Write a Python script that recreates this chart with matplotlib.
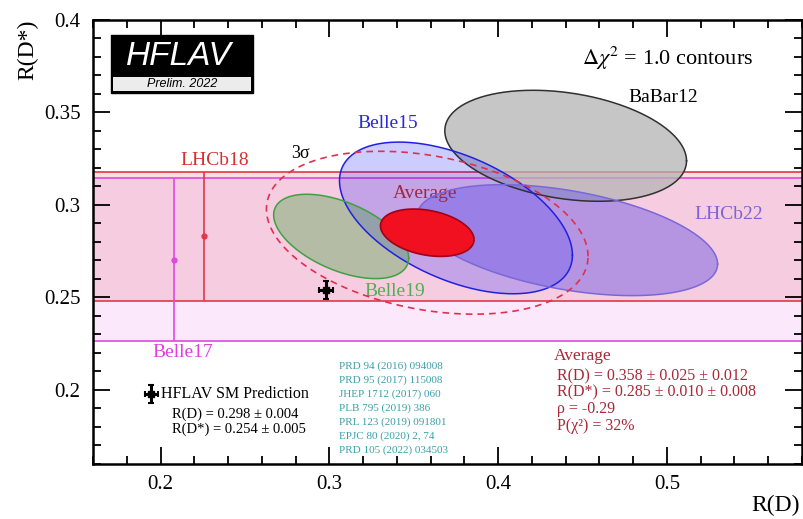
import numpy as np
import matplotlib.pyplot as plt
from matplotlib.patches import Rectangle
from matplotlib.ticker import MultipleLocator, FuncFormatter

plt.rcParams['font.family'] = ['Liberation Serif', 'DejaVu Serif']
plt.rcParams['mathtext.fontset'] = 'stix'

# 2D measurements: R(D), sigma, R(D*), sigma, correlation
names = ['BaBar12', 'Belle15', 'LHCb22', 'Belle19']
rd = [0.440, 0.375, 0.441, 0.307]
rd_err = [0.0716, 0.069, 0.089, 0.040]
rds = [0.332, 0.293, 0.281, 0.283]
rds_err = [0.030, 0.041, 0.030, 0.0228]
rho = [-0.27, -0.49, -0.43, -0.51]
face = [('#b4b4b4', 0.75), ('#0000ff', 0.20), ('#6e5ae6', 0.48), ('#3ca03c', 0.35)]
edge = ['#303030', '#2020e0', '#7a68d8', '#40a040']

# average
avg_rd, avg_rd_err = 0.358, 0.0277
avg_rds, avg_rds_err = 0.285, 0.0128
avg_rho = -0.29
dchi2_3sigma = 11.83

# R(D*) only measurements (x position is arbitrary)
bands = ['LHCb18', 'Belle17']
band_x = [0.226, 0.2077]
band_y = [0.283, 0.270]
band_lo = [0.035, 0.0435]
band_hi = [0.035, 0.0448]
band_col = ['#e03848', '#e048e0']
band_alpha = [0.16, 0.12]

# SM prediction
sm_rd, sm_rd_err = 0.298, 0.004
sm_rds, sm_rds_err = 0.254, 0.005

refs = ['PRD 94 (2016) 094008', 'PRD 95 (2017) 115008', 'JHEP 1712 (2017) 060',
        'PLB 795 (2019) 386', 'PRL 123 (2019) 091801', 'EPJC 80 (2020) 2, 74',
        'PRD 105 (2022) 034503']


def ellipse(x0, sx, y0, sy, r, scale=1.0):
    cov = np.array([[sx**2, r*sx*sy], [r*sx*sy, sy**2]])
    L = np.linalg.cholesky(cov)
    t = np.linspace(0, 2*np.pi, 300)
    pts = L @ np.vstack([np.cos(t), np.sin(t)]) * np.sqrt(scale)
    return x0 + pts[0], y0 + pts[1]


fig = plt.figure(figsize=(8.04, 5.19), dpi=100)
ax = fig.add_axes([0.1157, 0.1060, 0.8818, 0.8555])
ax.set_xlim(0.16, 0.58)
ax.set_ylim(0.16, 0.40)

# horizontal bands
for i in range(len(bands)):
    lo = band_y[i] - band_lo[i]
    hi = band_y[i] + band_hi[i]
    ax.axhspan(lo, hi, color=band_col[i], alpha=band_alpha[i], lw=0, zorder=1)
    ax.axhline(lo, color=band_col[i], lw=1.2, zorder=1.5)
    ax.axhline(hi, color=band_col[i], lw=1.2, zorder=1.5)
    ax.errorbar(band_x[i], band_y[i], yerr=[[band_lo[i]], [band_hi[i]]], fmt='o',
                color=band_col[i], ms=3.5, lw=1.2, capsize=0, zorder=2)

# measurement ellipses
for i in range(len(names)):
    ex, ey = ellipse(rd[i], rd_err[i], rds[i], rds_err[i], rho[i])
    ax.fill(ex, ey, color=face[i][0], alpha=face[i][1], lw=0, zorder=3)
    ax.plot(ex, ey, color=edge[i], lw=1.1, zorder=3.5)

# average and 3 sigma contour
ex, ey = ellipse(avg_rd, avg_rd_err, avg_rds, avg_rds_err, avg_rho)
ax.fill(ex, ey, facecolor='#f01020', edgecolor='#a00018', lw=1.2, zorder=4)
ex, ey = ellipse(avg_rd, avg_rd_err, avg_rds, avg_rds_err, avg_rho, dchi2_3sigma)
ax.plot(ex, ey, color='#e03050', lw=1.2, ls=(0, (4, 3)), zorder=4.5)

# SM prediction
ax.errorbar(sm_rd, sm_rds, xerr=sm_rd_err, yerr=sm_rds_err, fmt='s', color='black',
            ms=4, elinewidth=2.2, capsize=2.5, capthick=1.5, zorder=6)
ax.errorbar(0.1946, 0.1978, xerr=sm_rd_err, yerr=sm_rds_err, fmt='s', color='black',
            ms=4, elinewidth=2.2, capsize=2.5, capthick=1.5, zorder=6)

# labels
ax.text(0.477, 0.358, 'BaBar12', fontsize=14, va='center', color='black')
ax.text(0.3167, 0.3438, 'Belle15', fontsize=14, va='center', color='#2a2ad8')
ax.text(0.557, 0.2951, 'LHCb22', fontsize=14, va='center', ha='right', color='#7a64d6')
ax.text(0.321, 0.2535, 'Belle19', fontsize=14, va='center', color='#50b050')
ax.text(0.3375, 0.306, 'Average', fontsize=14, va='center', color='#a02840')
ax.text(0.2774, 0.3276, '3σ', fontsize=13, va='center', color='black')
ax.text(0.212, 0.3238, 'LHCb18', fontsize=14, va='center', color='#d83030')
ax.text(0.213, 0.2205, 'Belle17', fontsize=14, va='center', ha='center', color='#e040e0')
ax.text(0.4495, 0.3795, r'$\Delta\chi^{2}$ = 1.0 contours', fontsize=16, va='center')

ax.text(0.2, 0.1978, 'HFLAV SM Prediction', fontsize=11.5, va='center')
ax.text(0.2065, 0.187, 'R(D) = %.3f ± %.3f' % (sm_rd, sm_rd_err), fontsize=10.5, va='center')
ax.text(0.2065, 0.179, 'R(D*) = %.3f ± %.3f' % (sm_rds, sm_rds_err), fontsize=10.5, va='center')

for k, r in enumerate(refs):
    ax.text(0.306, 0.213 - k*0.0076, r, fontsize=8, va='center', color='#3aa0a8')

avg_lines = ['R(D) = 0.358 ± 0.025 ± 0.012', 'R(D*) = 0.285 ± 0.010 ± 0.008',
             'ρ = -0.29', 'P(χ²) = 32%']
ax.text(0.4327, 0.2184, 'Average', fontsize=12.5, va='center', color='#a82838')
for k, s in enumerate(avg_lines):
    ax.text(0.435, 0.2076 - k*0.0090, s, fontsize=11.5, va='center', color='#a82838')

# HFLAV logo
ax.add_patch(Rectangle((0.0254, 0.8356), 0.2003, 0.1306, transform=ax.transAxes,
                       facecolor='black', edgecolor='black', zorder=7))
ax.add_patch(Rectangle((0.0282, 0.8401), 0.1946, 0.0315, transform=ax.transAxes,
                       facecolor='#ececec', edgecolor='none', zorder=8))
ax.text(0.1213, 0.9167, 'HFLAV', transform=ax.transAxes, fontsize=24, style='italic',
        family='Liberation Sans', color='white', ha='center', va='center', zorder=9)
ax.text(0.1255, 0.8559, 'Prelim. 2022', transform=ax.transAxes, fontsize=9, style='italic',
        family='Liberation Sans', color='black', ha='center', va='center', zorder=9)

# axes style
ax.xaxis.set_major_locator(MultipleLocator(0.1))
ax.xaxis.set_minor_locator(MultipleLocator(0.02))
ax.yaxis.set_major_locator(MultipleLocator(0.05))
ax.yaxis.set_minor_locator(MultipleLocator(0.01))
fmt = FuncFormatter(lambda v, p: '%g' % round(v, 3))
ax.xaxis.set_major_formatter(fmt)
ax.yaxis.set_major_formatter(fmt)
ax.tick_params(which='both', direction='in', top=True, right=True, labelsize=15, width=1.3)
ax.tick_params(which='major', length=12)
ax.tick_params(which='minor', length=6)
ax.tick_params(axis='y', pad=9)
ax.tick_params(axis='x', pad=8)
for s in ax.spines.values():
    s.set_linewidth(1.8)

fig.text(28/804, 1 - 20/519, 'R(D*)', rotation=90, ha='center', va='top', fontsize=17)
fig.text(800/804, 1 - 505/519, 'R(D)', ha='right', va='center', fontsize=17)

fig.savefig('out.png', dpi=100)
